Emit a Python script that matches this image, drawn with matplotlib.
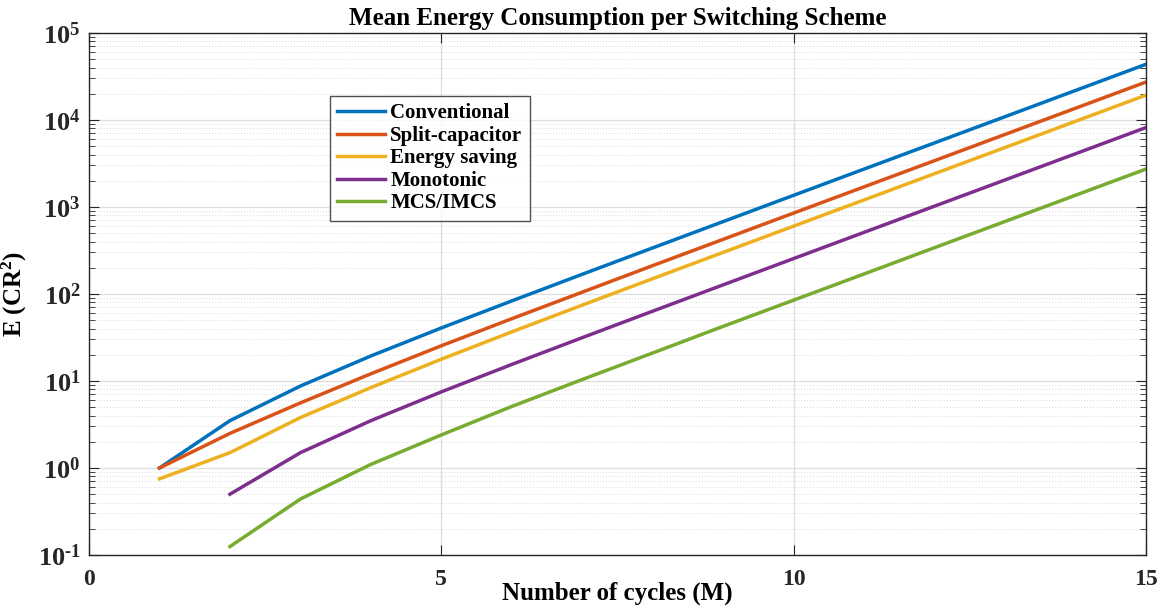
import numpy as np
import matplotlib
matplotlib.use("Agg")
import matplotlib.pyplot as plt
from matplotlib.ticker import FixedLocator, LogLocator, NullFormatter, FuncFormatter

plt.rcParams['font.family'] = ['Liberation Serif', 'DejaVu Serif']
plt.rcParams['font.weight'] = 'bold'
plt.rcParams['mathtext.fontset'] = 'custom'
plt.rcParams['mathtext.rm'] = 'Liberation Serif:bold'
plt.rcParams['mathtext.bf'] = 'Liberation Serif:bold'
plt.rcParams['mathtext.it'] = 'Liberation Serif:bold:italic'

# Data
m_conv = [1, 2, 3, 4, 5, 6, 7, 8, 9, 10, 11, 12, 13, 14, 15]
conventional = [1, 3.5, 8.75, 19.4, 40.7, 83.3, 168.6, 339, 680, 1363, 2729, 5460, 10923, 21848, 43699]
split_cap = [1, 2.5, 5.6, 12.1, 25.4, 52, 105, 212, 425, 852, 1705, 3412, 6826, 13654, 27312]
energy_saving = [0.75, 1.5, 3.8, 8.4, 17.8, 36.7, 74.5, 150, 301, 603, 1207, 2415, 4830, 9661, 19324]

m_mono = [2, 3, 4, 5, 6, 7, 8, 9, 10, 11, 12, 13, 14, 15]
monotonic = [0.5, 1.5, 3.5, 7.5, 15.5, 31.5, 63.5, 127.5, 255.5, 511.5, 1023.5, 2047.5, 4095.5, 8191.5]
mcs = [0.125, 0.44, 1.1, 2.4, 5.1, 10.4, 21, 42.5, 85, 170, 341, 682, 1365, 2730]

labels = ['Conventional', 'Split-capacitor', 'Energy saving', 'Monotonic', 'MCS/IMCS']
colors = ['#0072BD', '#D95319', '#EDB120', '#7E2F8E', '#77AC30']

fig = plt.figure(figsize=(11.66, 6.06), dpi=100)
ax = fig.add_axes([89 / 1166, 1 - 555 / 606, (1146 - 89) / 1166, (555 - 33) / 606])

series = [(m_conv, conventional), (m_conv, split_cap), (m_conv, energy_saving),
          (m_mono, monotonic), (m_mono, mcs)]
for (x, y), lab, c in zip(series, labels, colors):
    ax.plot(x, y, color=c, lw=2.5, label=lab)

ax.set_yscale('log')
ax.set_xlim(0, 15)
ax.set_ylim(0.1, 1e5)
ax.xaxis.set_major_locator(FixedLocator([0, 5, 10, 15]))
ax.yaxis.set_major_locator(LogLocator(base=10, numticks=10))
ax.yaxis.set_minor_locator(LogLocator(base=10, subs=np.arange(2, 10), numticks=20))
ax.yaxis.set_minor_formatter(NullFormatter())
ax.yaxis.set_major_formatter(FuncFormatter(
    lambda v, p: r'$\mathbf{10^{\text{%d}}}$' % int(round(np.log10(v)))))

ax.grid(True, which='major', color='#dedede', lw=0.9)
ax.grid(True, which='minor', axis='y', color='#dadada', lw=0.7, ls=(0, (1, 2)))
ax.set_axisbelow(True)

ax.tick_params(which='both', direction='in', top=True, right=True, colors='#262626')
ax.tick_params(axis='x', labelsize=17, pad=10)
ax.tick_params(axis='y', labelsize=19, pad=6)
ax.tick_params(which='major', length=7)
ax.tick_params(which='minor', length=4)
for s in ax.spines.values():
    s.set_color('#262626')
    s.set_linewidth(1.0)

ax.set_title('Mean Energy Consumption per Switching Scheme', fontsize=18, fontweight='bold', pad=6)
ax.set_xlabel('Number of cycles (M)', fontsize=18, fontweight='bold', labelpad=-6)
ax.set_ylabel(r'E (CR$^2$)', fontsize=18, fontweight='bold')
ax.yaxis.set_label_coords(-0.057, 0.5)

leg = ax.legend(loc='upper left', bbox_to_anchor=(0.228, 0.879), fontsize=15,
                frameon=True, fancybox=False, edgecolor='#262626', handlelength=2.3,
                borderpad=0.35, labelspacing=0.12, handletextpad=0.25, borderaxespad=0)
leg.get_frame().set_linewidth(1.0)

fig.savefig('out.png', dpi=100)
